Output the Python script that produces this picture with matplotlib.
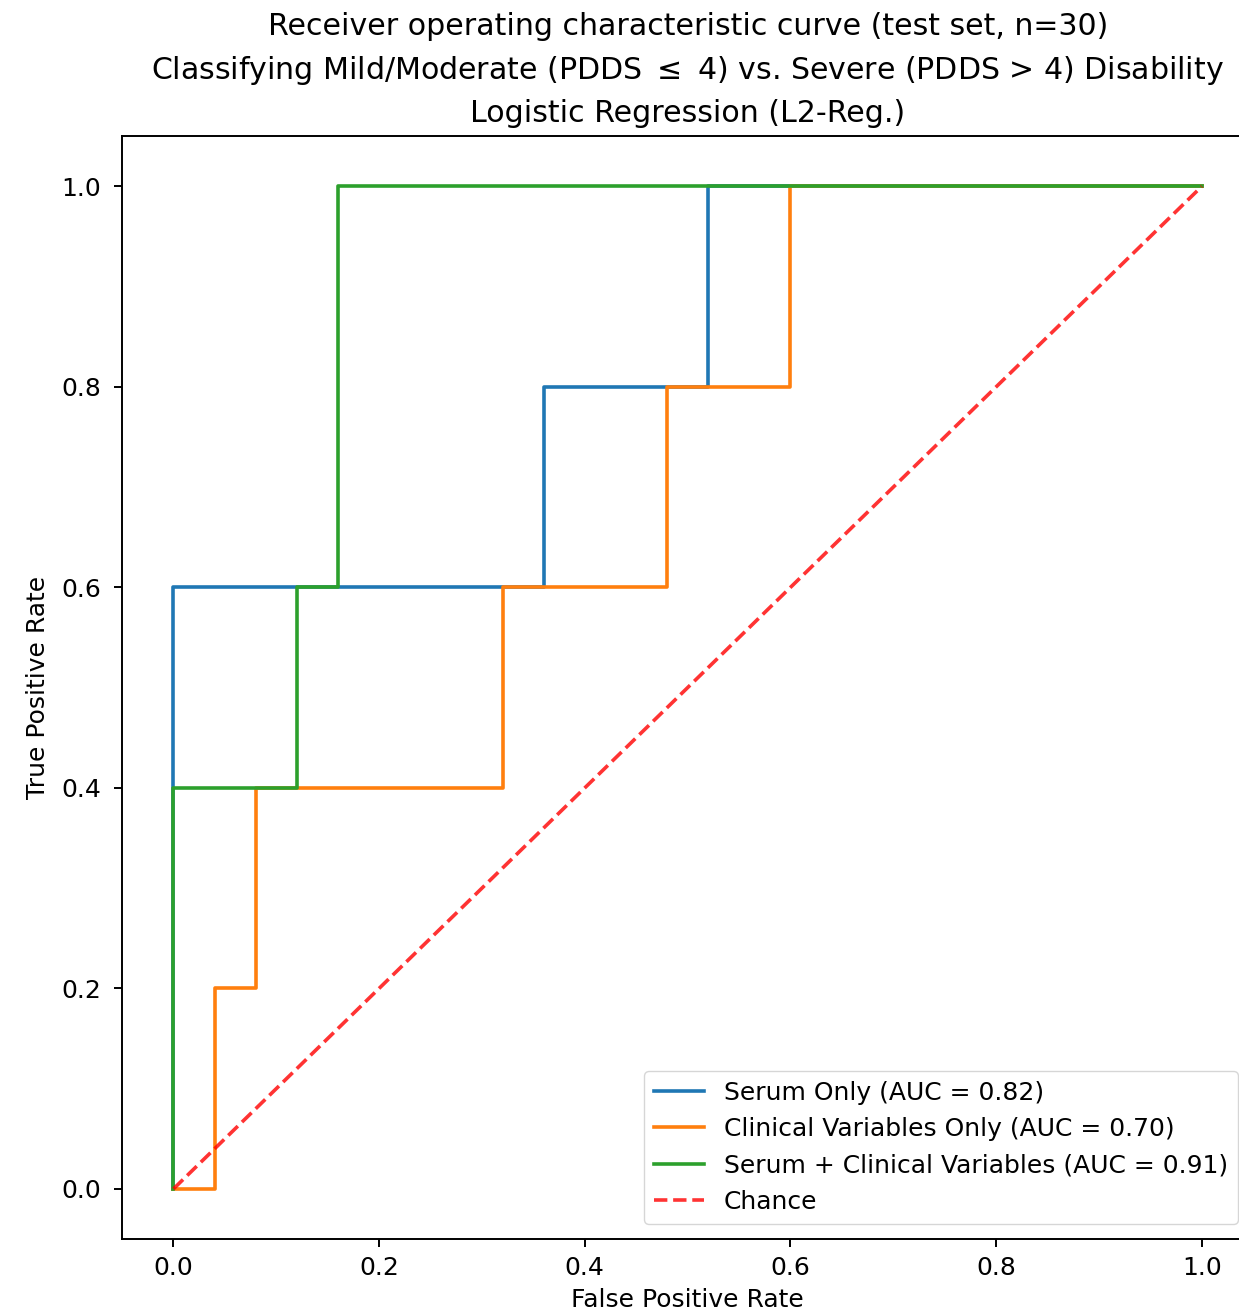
import matplotlib.pyplot as plt

# ROC curve points (test set: 5 positives, 25 negatives)
serum_fpr = [0.0, 0.0, 0.36, 0.36, 0.52, 0.52, 1.0]
serum_tpr = [0.0, 0.6, 0.6, 0.8, 0.8, 1.0, 1.0]

clinical_fpr = [0.0, 0.04, 0.04, 0.08, 0.08, 0.32, 0.32, 0.48, 0.48, 0.6, 0.6, 1.0]
clinical_tpr = [0.0, 0.0, 0.2, 0.2, 0.4, 0.4, 0.6, 0.6, 0.8, 0.8, 1.0, 1.0]

combined_fpr = [0.0, 0.0, 0.12, 0.12, 0.16, 0.16, 1.0]
combined_tpr = [0.0, 0.4, 0.4, 0.6, 0.6, 1.0, 1.0]

chance = [0.0, 1.0]

labels = ['Serum Only (AUC = 0.82)',
          'Clinical Variables Only (AUC = 0.70)',
          'Serum + Clinical Variables (AUC = 0.91)',
          'Chance']

fs = 18
plt.rcParams['font.size'] = fs
plt.rcParams['axes.linewidth'] = 1.4
plt.rcParams['xtick.major.size'] = 6
plt.rcParams['ytick.major.size'] = 6
plt.rcParams['xtick.major.width'] = 1.4
plt.rcParams['ytick.major.width'] = 1.4
plt.rcParams['xtick.major.pad'] = 6
plt.rcParams['ytick.major.pad'] = 9

fig = plt.figure(figsize=(12.39, 13.16), dpi=100)
ax = fig.add_axes([0.0985, 0.0585, 0.913, 0.838])

lw = 2.6
ax.plot(serum_fpr, serum_tpr, color='tab:blue', lw=lw, label=labels[0])
ax.plot(clinical_fpr, clinical_tpr, color='tab:orange', lw=lw, label=labels[1])
ax.plot(combined_fpr, combined_tpr, color='tab:green', lw=lw, label=labels[2])
ax.plot(chance, chance, linestyle='--', color='r', lw=lw, alpha=0.8, label=labels[3])

ax.set_xlim(-0.05, 1.05)
ax.set_ylim(-0.05, 1.05)
ax.set_xticks([0.0, 0.2, 0.4, 0.6, 0.8, 1.0])
ax.set_yticks([0.0, 0.2, 0.4, 0.6, 0.8, 1.0])
ax.set_xlabel('False Positive Rate', labelpad=6)
ax.set_ylabel('True Positive Rate', labelpad=8)
ax.set_title('Receiver operating characteristic curve (test set, n=30)\n'
             r'Classifying Mild/Moderate (PDDS $\leq$ 4) vs. Severe (PDDS > 4) Disability' '\n'
             'Logistic Regression (L2-Reg.)', fontsize=21.6, linespacing=1.52, pad=10)
ax.legend(loc='lower right', fontsize=fs, handlelength=2.0, borderaxespad=0.6)

fig.savefig('out.png', dpi=100)
